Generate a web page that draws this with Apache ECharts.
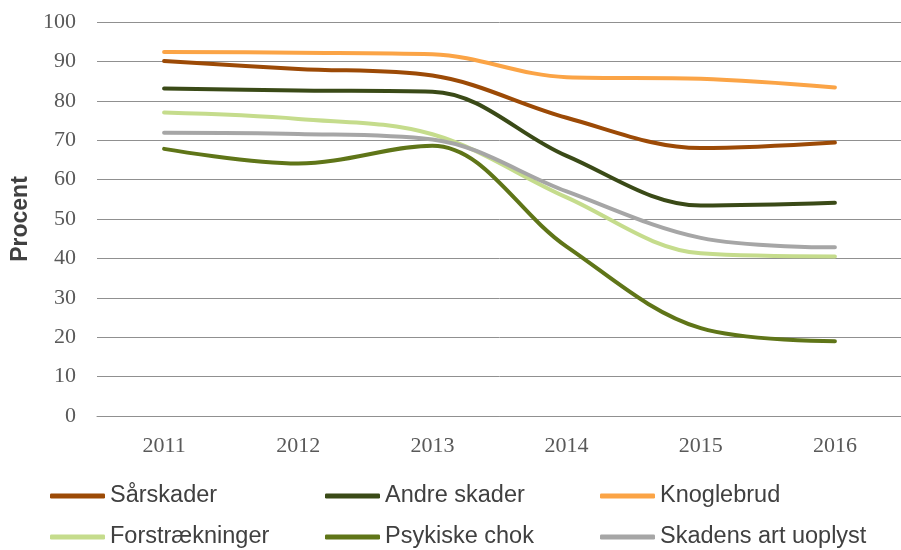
<!DOCTYPE html>
<html>
<head>
<meta charset="utf-8">
<script src="https://cdn.jsdelivr.net/npm/echarts@6/dist/echarts.min.js"></script>
<style>
  html, body { margin: 0; padding: 0; background: #fff; }
  #chart { width: 901px; height: 550px; }
</style>
</head>
<body>
<div id="chart"></div>
<script>
// data
const years = ["2011", "2012", "2013", "2014", "2015", "2016"];
const saarskader = [90.1, 88.1, 86.4, 75.7, 68.0, 69.4];
const andreSkader = [83.1, 82.6, 82.3, 66.0, 53.4, 54.1];
const knoglebrud = [92.4, 92.2, 91.8, 86.0, 85.6, 83.4];
const forstraekninger = [77.0, 75.4, 71.5, 55.5, 41.3, 40.5];
const psykiskeChok = [67.8, 64.1, 68.6, 43.0, 22.3, 19.0];
const uoplyst = [71.9, 71.6, 70.2, 57.0, 45.2, 42.8];

const names = ["Sårskader", "Andre skader", "Knoglebrud", "Forstrækninger", "Psykiske chok", "Skadens art uoplyst"];
const colors = ["#9c4a06", "#3a4a17", "#fba446", "#c5dc8c", "#5f7518", "#a6a6a6"];
const values = [saarskader, andreSkader, knoglebrud, forstraekninger, psykiskeChok, uoplyst];

let myChart = echarts.init(document.getElementById("chart"));

// one legend per entry: 3 columns x 2 rows
function legendItem(i) {
  return {
    left: 50 + (i % 3) * 275,
    top: i < 3 ? 484 : 525,
    data: [names[i]],
    icon: "roundRect",
    itemWidth: 55,
    itemHeight: 5,
    padding: 0,
    textStyle: {
      color: "#404040",
      fontFamily: "Liberation Sans",
      fontSize: 23.5,
      lineHeight: 22,
    },
  };
}

let option = {
  animation: false,
  color: colors,
  grid: { left: 97, right: -1, top: 22, bottom: 134, outerBoundsMode: "none" },
  legend: names.map(function (n, i) {
    return legendItem(i);
  }),
  xAxis: {
    type: "category",
    data: years,
    boundaryGap: true,
    axisLine: { lineStyle: { color: "#909090", width: 1 } },
    axisTick: { show: false },
    axisLabel: {
      margin: 19,
      color: "#595959",
      fontFamily: "Liberation Serif",
      fontSize: 22,
    },
  },
  yAxis: {
    type: "value",
    min: 0,
    max: 100,
    interval: 10,
    name: "Procent",
    nameLocation: "middle",
    nameGap: 58,
    nameTextStyle: {
      color: "#404040",
      fontFamily: "Liberation Sans",
      fontWeight: "bold",
      fontSize: 23,
    },
    axisLine: { show: false },
    axisTick: { show: false },
    axisLabel: {
      margin: 21,
      color: "#595959",
      fontFamily: "Liberation Serif",
      fontSize: 22,
    },
    splitLine: { lineStyle: { color: "#909090", width: 1 } },
  },
  series: names.map(function (n, i) {
    return {
      name: n,
      type: "line",
      data: values[i],
      smooth: 0.35,
      symbol: "none",
      lineStyle: { width: 4, color: colors[i], cap: "round", join: "round" },
    };
  }),
};

myChart.setOption(option);
</script>
</body>
</html>
